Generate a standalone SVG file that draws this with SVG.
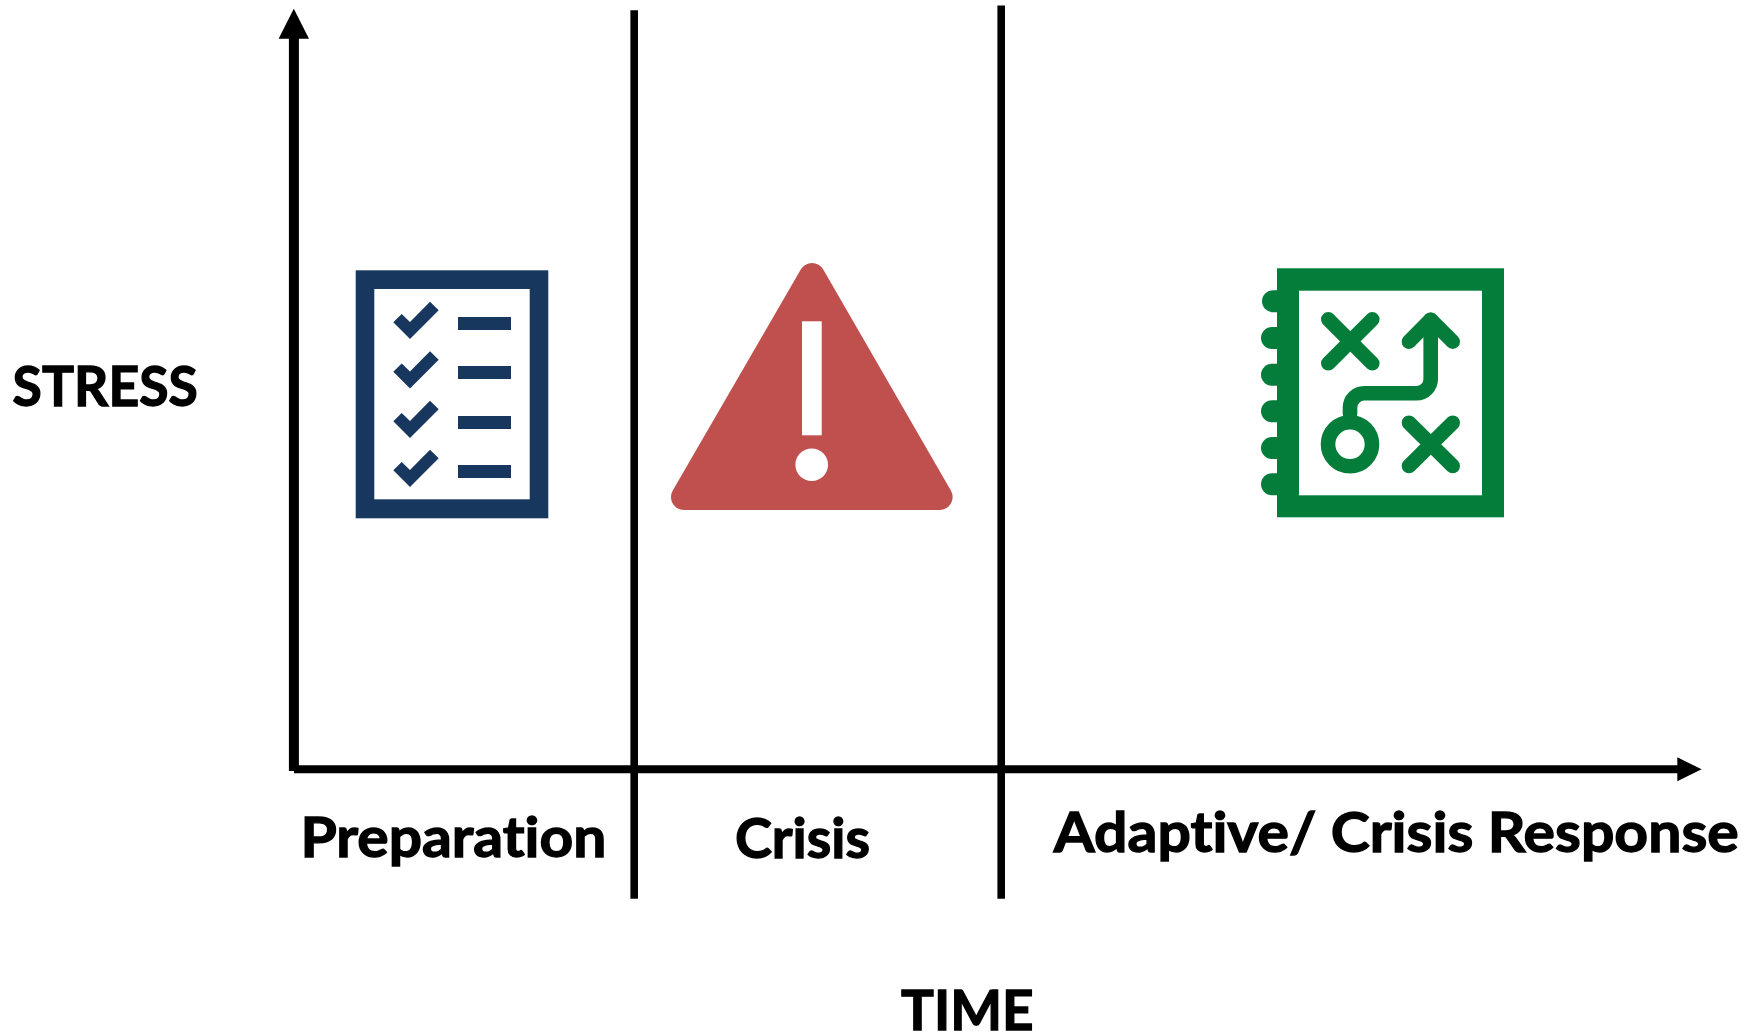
<svg xmlns="http://www.w3.org/2000/svg" width="1760" height="1033" viewBox="0 0 1760 1033">
  <defs>
    <path id="tick" d="M393.3,322.3 L401.7,314 L410,322 L430,301.7 L438.7,310.3 L410,339 Z"/>
  </defs>
  <style>
    text { font-family: "Lato", "Carlito", "Liberation Sans", sans-serif; font-weight: 700; font-size: 56px; fill: #000; stroke: #000; stroke-width: 1.3px; font-variant-ligatures: none; }
    .ax { stroke: #000; fill: none; }
    .navy { fill: #17375E; }
    .g { stroke: #047D3A; fill: none; stroke-width: 14.6; stroke-linecap: round; stroke-linejoin: round; }
  </style>
  <rect width="1760" height="1033" fill="#fff"/>

  <g id="connectors">
    <line class="ax" x1="293.9" y1="771" x2="293.9" y2="36" stroke-width="10"/>
    <polygon points="293.8,8.7 309,38.7 278.6,38.7" fill="#000"/>
    <line class="ax" x1="294" y1="769.3" x2="1680" y2="769.3" stroke-width="8"/>
    <polygon points="1701.6,769.3 1677.3,757.3 1677.3,781.3" fill="#000"/>
    <line class="ax" x1="634.2" y1="10.3" x2="634.2" y2="898.7" stroke-width="7.6"/>
    <line class="ax" x1="1001.2" y1="5.6" x2="1001.2" y2="898.7" stroke-width="7.6"/>
  </g>

  <g id="checklist">
    <rect x="355.7" y="270.3" width="192.6" height="248" class="navy"/>
    <rect x="374.3" y="289" width="155.4" height="210.3" fill="#fff"/>
    <use href="#tick" class="navy"/>
    <use href="#tick" y="49.5" class="navy"/>
    <use href="#tick" y="99" class="navy"/>
    <use href="#tick" y="148" class="navy"/>
    <rect x="458" y="317" width="53" height="13" class="navy"/>
    <rect x="458" y="366" width="53" height="13" class="navy"/>
    <rect x="458" y="416" width="53" height="13" class="navy"/>
    <rect x="458" y="465" width="53" height="13" class="navy"/>
  </g>

  <g id="warning">
    <polygon points="684,497 812,276 939.6,497" fill="#C0504D" stroke="#C0504D" stroke-width="26" stroke-linejoin="round"/>
    <rect x="802" y="321.3" width="19.7" height="114" fill="#fff"/>
    <circle cx="811.7" cy="464.7" r="16.3" fill="#fff"/>
  </g>

  <g id="plan">
    <g stroke="#047D3A" stroke-width="22" stroke-linecap="round">
      <line x1="1273" y1="301.3" x2="1285" y2="301.3"/>
      <line x1="1272" y1="338" x2="1285" y2="338"/>
      <line x1="1272" y1="374.7" x2="1285" y2="374.7"/>
      <line x1="1272" y1="411.3" x2="1285" y2="411.3"/>
      <line x1="1272" y1="448" x2="1285" y2="448"/>
      <line x1="1272" y1="484.3" x2="1285" y2="484.3"/>
    </g>
    <rect x="1277" y="268.3" width="227" height="249" fill="#047D3A"/>
    <rect x="1299" y="290.7" width="183" height="204.6" fill="#fff"/>
    <path class="g" d="M1328.3,319.3 L1372.3,363.3 M1372.3,319.3 L1328.3,363.3"/>
    <path class="g" d="M1409,422.7 L1452.7,466 M1452.7,422.7 L1409,466"/>
    <path class="g" d="M1409,341.7 L1430.7,319.7 L1452.7,341.7"/>
    <path class="g" d="M1430.7,319.7 V379 A14.3,14.3 0 0 1 1416.4,393.3 H1364.3 A14.3,14.3 0 0 0 1350,407.6 V414"/>
    <circle class="g" cx="1350" cy="444.3" r="22"/>
  </g>

  <g id="labels">
    <text x="12.6" y="406" textLength="185.2" lengthAdjust="spacingAndGlyphs">STRESS</text>
    <text x="300.4" y="857" textLength="306" lengthAdjust="spacingAndGlyphs">Preparation</text>
    <text x="735" y="858" textLength="135" lengthAdjust="spacingAndGlyphs">Crisis</text>
    <text x="1053.8" y="852" textLength="685" lengthAdjust="spacingAndGlyphs">Adaptive/ Crisis Response</text>
    <text x="901" y="1030" textLength="132.6" lengthAdjust="spacingAndGlyphs">TIME</text>
  </g>
</svg>
